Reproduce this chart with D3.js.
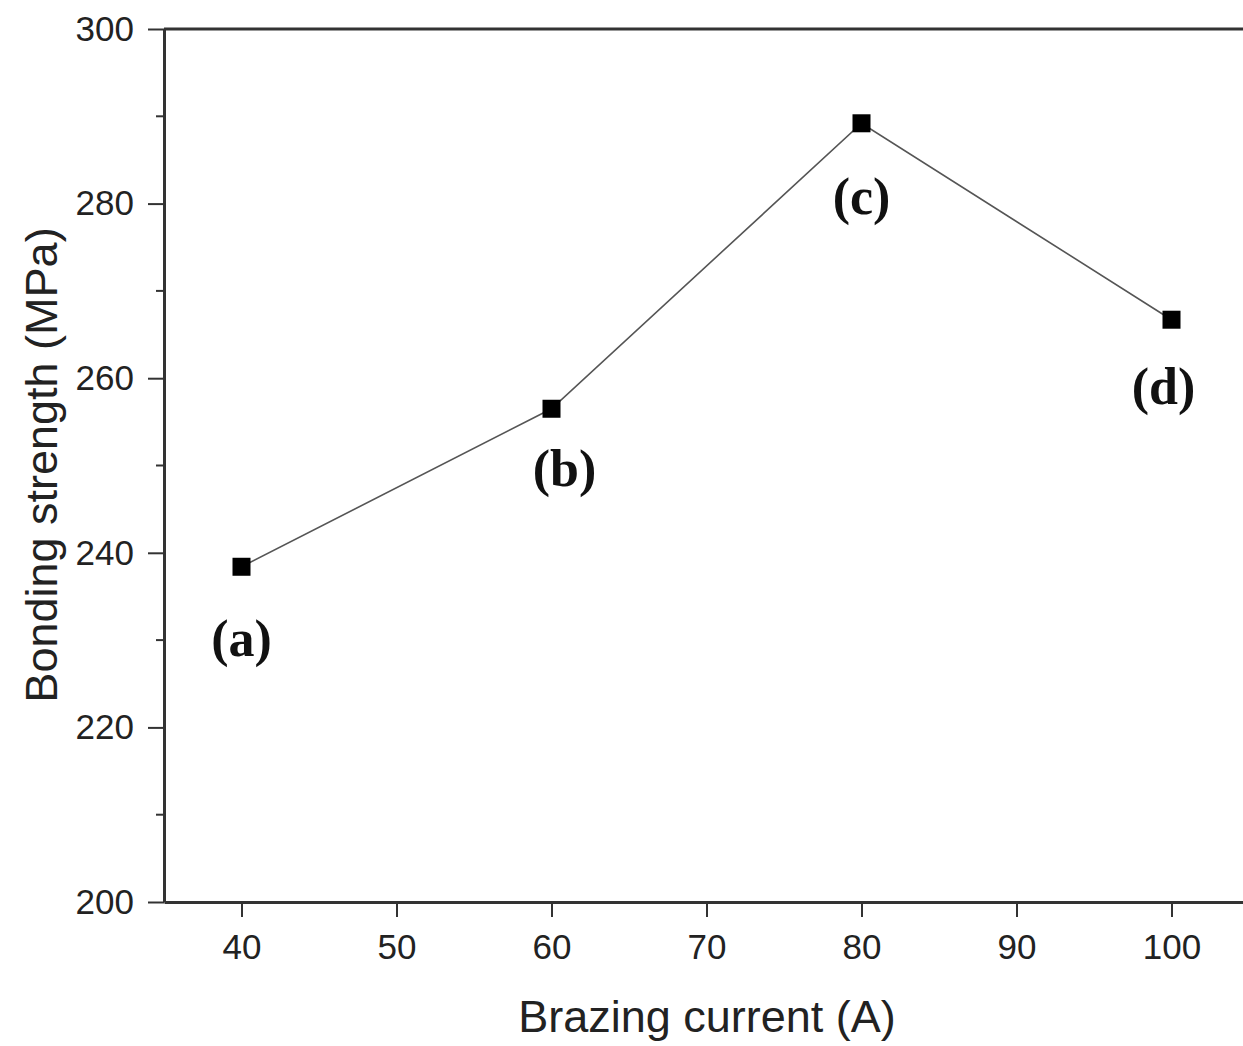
<!DOCTYPE html>
<html lang="en">
<head>
<meta charset="utf-8">
<title>Bonding strength vs brazing current</title>
<script src="https://cdnjs.cloudflare.com/ajax/libs/d3/7.8.5/d3.min.js"></script>
<style>
  body { margin: 0; background: #fff; }
  svg { display: block; }
  .tick text { font-family: "Liberation Sans", Arial, sans-serif; fill: #222; }
</style>
</head>
<body>
<script>
// data
var currents = [40, 60, 80, 100];
var strengths = [238.4, 256.5, 289.2, 266.7];
var pointLabels = ["(a)", "(b)", "(c)", "(d)"];
var xTicks = [40, 50, 60, 70, 80, 90, 100];
var yTicks = [200, 220, 240, 260, 280, 300];
var yMinor = [210, 230, 250, 270, 290];

var w = 1243, h = 1046;
var padLeft = 164, padTop = 29, padBottom = 902;

var svg = d3.select("body").append("svg")
    .attr("width", w)
    .attr("height", h);

// plot runs off the right edge of the image, like the original crop
var x = d3.scaleLinear().domain([35, 105]).range([padLeft, padLeft + 70 * 15.5]);
var y = d3.scaleLinear().domain([200, 300]).range([padBottom, padTop]);

// top frame line
svg.append("line")
    .attr("x1", padLeft).attr("x2", w)
    .attr("y1", padTop).attr("y2", padTop)
    .attr("stroke", "#333").attr("stroke-width", 3);

// y minor ticks
svg.selectAll(".yminor").data(yMinor).enter().append("line")
    .attr("x1", padLeft - 8).attr("x2", padLeft)
    .attr("y1", function(d) { return y(d); })
    .attr("y2", function(d) { return y(d); })
    .attr("stroke", "#333").attr("stroke-width", 2);

var yAxis = svg.append("g")
    .attr("transform", "translate(" + padLeft + ",0)")
    .call(d3.axisLeft(y).tickValues(yTicks).tickSize(16).tickPadding(14).tickSizeOuter(0));
yAxis.select(".domain").attr("stroke", "#333").attr("stroke-width", 3);
yAxis.selectAll(".tick line").attr("stroke", "#333").attr("stroke-width", 2);
yAxis.selectAll(".tick text").style("font-size", "35px");

var xAxis = svg.append("g")
    .attr("transform", "translate(0," + padBottom + ")")
    .call(d3.axisBottom(x).tickValues(xTicks).tickSize(15).tickPadding(17).tickSizeOuter(0));
xAxis.select(".domain").attr("stroke", "#333").attr("stroke-width", 3);
xAxis.selectAll(".tick line").attr("stroke", "#333").attr("stroke-width", 2);
xAxis.selectAll(".tick text").style("font-size", "35px");

// axis titles
svg.append("text")
    .attr("x", 707).attr("y", 1032)
    .attr("text-anchor", "middle")
    .style("font-family", "'Liberation Sans', Arial, sans-serif")
    .style("font-size", "45px").style("fill", "#222")
    .text("Brazing current (A)");

svg.append("text")
    .attr("transform", "translate(57,465) rotate(-90)")
    .attr("text-anchor", "middle")
    .style("font-family", "'Liberation Sans', Arial, sans-serif")
    .style("font-size", "45px").style("fill", "#222")
    .text("Bonding strength (MPa)");

var pts = currents.map(function(c, i) { return { x: c, y: strengths[i], label: pointLabels[i] }; });

svg.append("path")
    .datum(pts)
    .attr("fill", "none")
    .attr("stroke", "#555")
    .attr("stroke-width", 1.6)
    .attr("d", d3.line().x(function(d) { return x(d.x); }).y(function(d) { return y(d.y); }));

svg.selectAll("rect.pt").data(pts).enter().append("rect")
    .attr("class", "pt")
    .attr("x", function(d) { return x(d.x) - 9; })
    .attr("y", function(d) { return y(d.y) - 9; })
    .attr("width", 18).attr("height", 18)
    .attr("fill", "#000");

// labels under each point, pixel offsets from the marker
var labelDy = [89, 77, 91, 84];
var labelDx = [0, 13, 0, -8];
svg.selectAll("text.lbl").data(pts).enter().append("text")
    .attr("class", "lbl")
    .attr("x", function(d, i) { return x(d.x) + labelDx[i]; })
    .attr("y", function(d, i) { return y(d.y) + labelDy[i]; })
    .attr("text-anchor", "middle")
    .style("font-family", "'Liberation Serif', 'Times New Roman', serif")
    .style("font-weight", "bold")
    .style("font-size", "52px")
    .style("fill", "#111")
    .text(function(d) { return d.label; });
</script>
</body>
</html>
